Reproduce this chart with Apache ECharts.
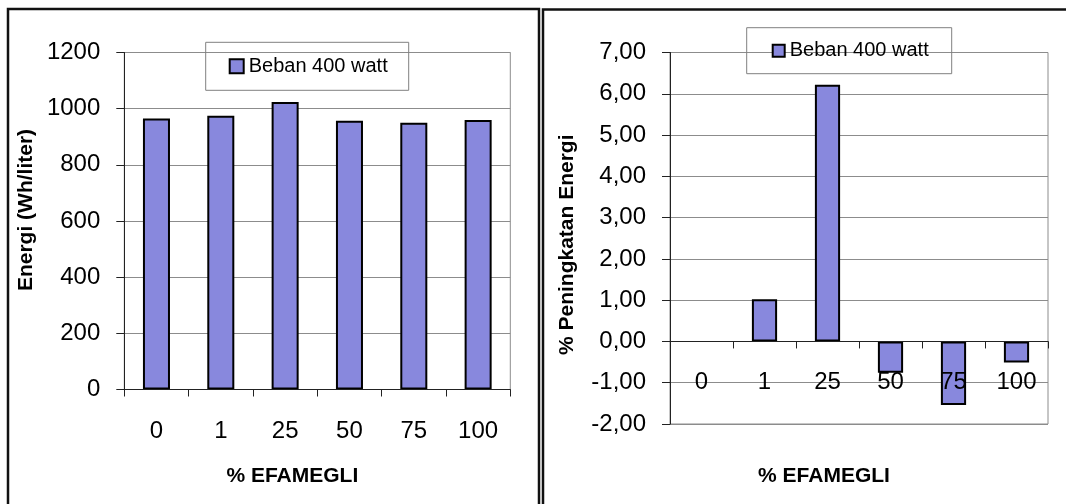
<!DOCTYPE html>
<html>
<head>
<meta charset="utf-8">
<script src="https://cdn.jsdelivr.net/npm/echarts@6/dist/echarts.min.js"></script>
<style>
html,body{margin:0;padding:0;background:#fff;}
#c{width:1066px;height:504px;}
</style>
</head>
<body>
<div id="c"></div>
<script>
const categories = ['0', '1', '25', '50', '75', '100'];
const energy = [965, 975, 1024, 957, 950, 960];
const increase = [0, 1.02, 6.22, -0.76, -1.54, -0.51];
const seriesName = 'Beban 400 watt';
const xAxisTitle = '% EFAMEGLI';
const leftYTitle = 'Energi (Wh/liter)';
const rightYTitle = '% Peningkatan Energi';

const FONT = "'Liberation Sans', Arial, sans-serif";
const BAR = '#8888dd';
const GRID = '#8c8c8c';

const chart = echarts.init(document.getElementById('c'), null, {renderer: 'canvas'});

function catAxis(gi, gap, pad, margin) {
  return {
    type: 'category', gridIndex: gi, data: categories, z: 10,
    axisLine: {show: true, onZero: true, lineStyle: {color: '#222', width: 1}},
    axisTick: {show: true, length: 7, alignWithLabel: false, lineStyle: {color: '#222'}},
    axisLabel: {fontSize: 24, color: '#000', fontFamily: FONT, margin: margin, interval: 0, hideOverlap: false},
    splitLine: {show: false},
    name: xAxisTitle, nameLocation: 'middle', nameGap: gap,
    nameTextStyle: {fontSize: 21, fontWeight: 'bold', color: '#000', fontFamily: FONT, padding: pad}
  };
}
function valAxis(gi, min, max, interval, fmt, name, gap, pad) {
  return {
    type: 'value', gridIndex: gi, min: min, max: max, interval: interval,
    axisLine: {show: true, onZero: false, lineStyle: {color: '#222', width: 1}},
    axisTick: {show: true, length: 8, lineStyle: {color: '#222'}},
    axisLabel: {fontSize: 24, color: '#000', fontFamily: FONT, margin: 24, formatter: fmt},
    splitLine: {show: true, lineStyle: {color: GRID, width: 1}},
    name: name, nameLocation: 'middle', nameGap: gap,
    nameTextStyle: {fontSize: 21, fontWeight: 'bold', color: '#000', fontFamily: FONT, padding: pad}
  };
}
function legend(left, top, pad, icon) {
  return {
    left: left, top: top, orient: 'horizontal', data: [seriesName],
    selectedMode: false, icon: 'rect', itemWidth: icon, itemHeight: icon,
    padding: pad, borderColor: '#808080', borderWidth: 1,
    itemStyle: {color: BAR, borderColor: '#000', borderWidth: 2},
    textStyle: {fontSize: 20, lineHeight: 20, color: '#000', fontFamily: FONT}
  };
}

chart.setOption({
  animation: false,
  backgroundColor: '#fff',
  textStyle: {fontFamily: FONT},
  grid: [
    {left: 124.3, top: 52.5, width: 386, height: 337, show: true, borderColor: GRID, borderWidth: 1,
      backgroundColor: 'transparent', containLabel: false, outerBoundsMode: 'none'},
    {left: 670, top: 52.5, width: 378, height: 371.5, show: true, borderColor: GRID, borderWidth: 1,
      backgroundColor: 'transparent', containLabel: false, outerBoundsMode: 'none'}
  ],
  xAxis: [
    catAxis(0, 76, [0, 50, 0, 0], 30),
    catAxis(1, 42, [0, 70, 0, 0], -54)
  ],
  yAxis: [
    valAxis(0, 0, 1200, 200, v => String(v), leftYTitle, 88, [0, 0, 0, 22]),
    valAxis(1, -2, 7, 1, v => v.toFixed(2).replace('.', ','), rightYTitle, 92, [0, 13, 0, 0])
  ],
  legend: [
    legend(205.7, 42.3, [14, 21, 14, 23], 14),
    legend(746.7, 27.7, [13, 23, 13, 25], 12)
  ],
  series: [
    {
      name: seriesName, type: 'bar', xAxisIndex: 0, yAxisIndex: 0, data: energy,
      barWidth: '42%',
      itemStyle: {color: BAR, borderColor: '#000', borderWidth: 2}
    },
    {
      name: seriesName, type: 'bar', xAxisIndex: 1, yAxisIndex: 1,
      data: increase.map(v => v === 0 ? {value: v, itemStyle: {borderWidth: 0}} : v),
      barWidth: '40%',
      itemStyle: {color: BAR, borderColor: '#000', borderWidth: 2}
    }
  ],
  graphic: [
    {type: 'rect', silent: true, z: 100, shape: {x: 8, y: 9, width: 531, height: 600},
      style: {fill: 'none', stroke: '#111', lineWidth: 2.5}},
    {type: 'rect', silent: true, z: 100, shape: {x: 543, y: 9.5, width: 600, height: 600},
      style: {fill: 'none', stroke: '#111', lineWidth: 2.5}}
  ]
});
</script>
</body>
</html>
